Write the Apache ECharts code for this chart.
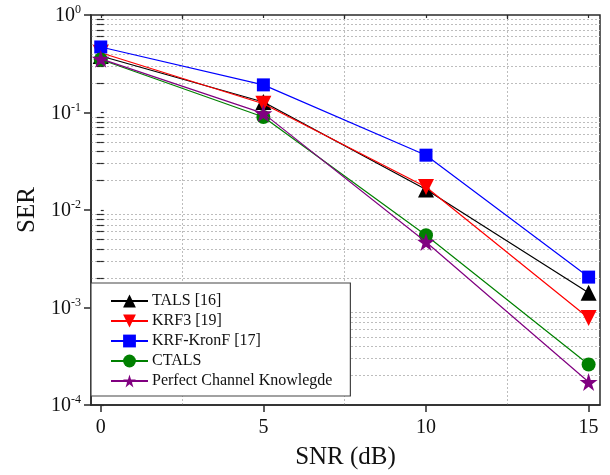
<!DOCTYPE html>
<html><head><meta charset="utf-8">
<script src="https://cdn.jsdelivr.net/npm/echarts@6/dist/echarts.min.js"></script>
<style>html,body{margin:0;padding:0;background:#fff}#c{width:610px;height:475px}</style>
</head><body><div id="c"></div>
<script>
const snr = [0, 5, 10, 15];
const xMajorTicks = [0, 5, 10, 15];
const xMinorTicks = [2.5, 7.5, 12.5];
const yMajorTicks = [1e-4, 1e-3, 1e-2, 1e-1, 1];
const yMinorMultipliers = [2, 3, 4, 5, 6, 7, 8, 9];
const yDecades = [-4, -3, -2, -1];

const seriesNames = ['TALS [16]', 'KRF3 [19]', 'KRF-KronF [17]', 'CTALS', 'Perfect Channel Knowlegde'];
const tals = [0.38, 0.128, 0.0162, 0.00142];
const krf3 = [0.41, 0.123, 0.0172, 0.00078];
const krfKronF = [0.47, 0.192, 0.0365, 0.00205];
const ctals = [0.35, 0.090, 0.0055, 0.00026];
const perfect = [0.355, 0.098, 0.0047, 0.000172];

// minor tick positions expressed as exponents (for a helper axis in log10 space)
const yMinorExp = [];
yDecades.forEach(d => yMinorMultipliers.forEach(k => yMinorExp.push(d + Math.log10(k))));
const yMajorExp = yMajorTicks.map(v => Math.round(Math.log10(v)));

const star = 'path://M50,0 L61.2,34.5 L97.6,34.5 L68.2,55.9 L79.4,90.5 L50,69.1 L20.6,90.5 L31.8,55.9 L2.4,34.5 L38.8,34.5 Z';
const colors = ['#000000', '#ff0000', '#0000ff', '#008000', '#800080'];
const symbols = ['triangle', 'path://M0,0 L100,0 L50,86 Z', 'rect', 'circle', star];
const sizes = [16, 16, 13, 14, 18];
const dataSets = [tals, krf3, krfKronF, ctals, perfect];

const font = 'Liberation Serif';
const chart = echarts.init(document.getElementById('c'));

function supLabel(v) {
  const e = Math.round(Math.log10(v));
  return '{b|10}{s|' + e + '}';
}

chart.setOption({
  animation: false,
  grid: { left: 91, right: 10, top: 15, bottom: 69, show: true, borderColor: '#2a2a2a', borderWidth: 1.5, backgroundColor: 'transparent' },
  legend: {
    orient: 'vertical', left: 91, top: 283,
    data: seriesNames,
    itemWidth: 37, itemHeight: 16, itemGap: 4,
    padding: [10, 18, 7, 19],
    backgroundColor: '#fff', borderColor: '#444', borderWidth: 1.2, borderRadius: 0,
    textStyle: { fontFamily: font, fontSize: 16, color: '#111', padding: [0, 0, 0, -1] }
  },
  xAxis: [
    {
      type: 'value', min: -0.3, max: 15.35, position: 'bottom',
      name: 'SNR (dB)', nameLocation: 'middle', nameGap: 40,
      nameTextStyle: { fontFamily: font, fontSize: 25, color: '#111' },
      axisLine: { show: true, onZero: false, lineStyle: { color: '#2a2a2a', width: 1.5 } },
      axisTick: { show: true, customValues: xMajorTicks, length: 7, lineStyle: { color: '#2a2a2a', width: 1.5 } },
      axisLabel: { customValues: xMajorTicks, fontFamily: font, fontSize: 20, color: '#111', margin: 13 },
      splitLine: { show: false }
    },
    {
      type: 'value', min: -0.3, max: 15.35, position: 'bottom',
      axisLine: { show: false },
      axisTick: { show: true, customValues: xMinorTicks, length: 4, lineStyle: { color: '#2a2a2a', width: 1.2 } },
      axisLabel: { show: false },
      splitLine: { show: true, lineStyle: { color: '#bdbdbd', type: [2, 2], width: 1 } }
    },
    {
      type: 'value', min: -0.3, max: 15.35, position: 'top',
      axisLine: { show: false },
      axisTick: { show: true, inside: true, customValues: xMajorTicks.concat(xMinorTicks), length: 3, lineStyle: { color: '#2a2a2a', width: 1.2 } },
      axisLabel: { show: false }, splitLine: { show: false }
    }
  ],
  yAxis: [
    {
      type: 'log', logBase: 10, min: 1e-4, max: 1,
      name: 'SER', nameLocation: 'middle', nameGap: 51,
      nameTextStyle: { fontFamily: font, fontSize: 25, color: '#111' },
      axisLine: { show: true, onZero: false, lineStyle: { color: '#2a2a2a', width: 1.5 } },
      axisTick: { show: true, customValues: yMajorTicks, length: 7, lineStyle: { color: '#2a2a2a', width: 1.5 } },
      axisLabel: {
        customValues: yMajorTicks, formatter: supLabel, margin: 10,
        rich: {
          b: { fontFamily: font, fontSize: 20, color: '#111', verticalAlign: 'bottom' },
          s: { fontFamily: font, fontSize: 12, color: '#111', verticalAlign: 'top', padding: [0, 0, 10, 0] }
        }
      },
      splitLine: { show: false }
    },
    {
      type: 'value', min: -4, max: 0, position: 'left',
      axisLine: { show: false },
      axisTick: { show: true, customValues: yMinorExp, length: 4, lineStyle: { color: '#2a2a2a', width: 1.2 } },
      axisLabel: { show: false },
      splitLine: { show: true, lineStyle: { color: '#bdbdbd', type: [2, 2], width: 1 } }
    },
    {
      type: 'value', min: -4, max: 0, position: 'right',
      axisLine: { show: false },
      axisTick: { show: true, customValues: yMajorExp.concat(yMinorExp), length: 3, lineStyle: { color: '#2a2a2a', width: 1.2 } },
      axisLabel: { show: false }, splitLine: { show: false }
    }
  ],
  series: seriesNames.map((n, i) => ({
    name: n, type: 'line', xAxisIndex: 0, yAxisIndex: 0,
    data: snr.map((x, j) => [x, dataSets[i][j]]),
    symbol: symbols[i], symbolSize: sizes[i],
    showAllSymbol: true,
    itemStyle: { color: colors[i] },
    lineStyle: { color: colors[i], width: 1.2 },
    z: 3 + i
  }))
});
</script></body></html>
